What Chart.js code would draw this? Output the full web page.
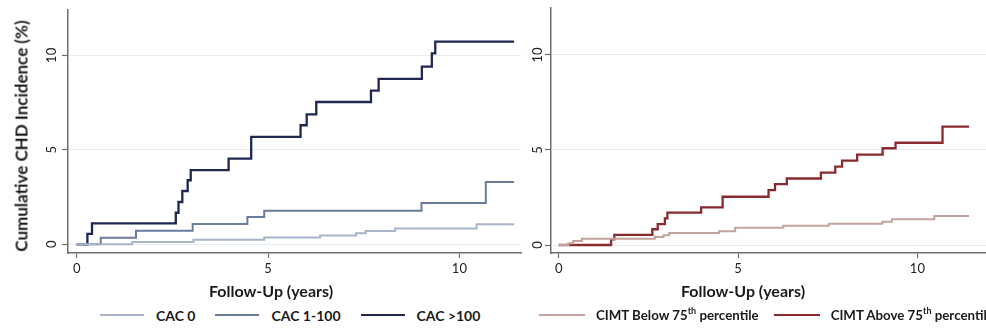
<!DOCTYPE html>
<html>
<head>
<meta charset="utf-8">
<title>Cumulative CHD incidence by CAC and CIMT</title>
<script src="https://cdn.jsdelivr.net/npm/chart.js"></script>
<style>
    html, body { margin: 0; padding: 0; background: #fff; }
    body { width: 986px; height: 329px; position: relative; overflow: hidden;
           font-family: Lato, "DejaVu Sans", sans-serif; color: #1a1a1a; }
    canvas { position: absolute; top: 0; }
    #c_left { left: 0; }
    #c_right { left: 500px; }
    .x_title { position: absolute; top: 281px; font-weight: bold; font-size: 16px;
               white-space: nowrap; transform: translateX(-50%); }
    #y_title { position: absolute; left: 21px; top: 136px; font-weight: bold; font-size: 17px;
               white-space: nowrap; transform: translate(-50%, -50%) rotate(-90deg); }
    .legend { position: absolute; top: 306px; height: 18px; display: flex; align-items: center;
              font-weight: bold; font-size: 14px; white-space: nowrap; }
    .legend .item { display: flex; align-items: center; margin-right: 20px; }
    .legend .line { display: inline-block; width: 44px; height: 2px; margin-right: 12px; }
    .legend sup { font-size: 9px; line-height: 0; vertical-align: 6px; }
    #legend_right { font-size: 13.3px; }
    #legend_right .item { margin-right: 15px; }
    #legend_right .line { width: 46px; margin-right: 11px; }
</style>
</head>
<body>
<canvas id="c_left" width="530" height="290"></canvas>
<canvas id="c_right" width="520" height="290"></canvas>
<div id="y_title">Cumulative CHD Incidence (%)</div>
<div class="x_title" style="left:271px">Follow-Up (years)</div>
<div class="x_title" style="left:743px">Follow-Up (years)</div>
<div class="legend" id="legend_left" style="left:100px"></div>
<div class="legend" id="legend_right" style="left:539px"></div>

<script>
// tick labels
var x_ticks = [0, 5, 10];
var y_ticks = [0, 5, 10];

// left panel: coronary artery calcium groups
var cac_labels = ['CAC 0', 'CAC 1-100', 'CAC >100'];
var cac0_time = [0, 1.45, 3.05, 4.9, 6.36, 7.3, 7.55, 8.32, 10.45, 11.43];
var cac0_pct  = [0, 0.12, 0.24, 0.36, 0.46, 0.58, 0.71, 0.83, 1.06, 1.06];
var cac1_time = [0, 0.63, 1.55, 3.03, 4.46, 4.9, 9.01, 10.69, 11.43];
var cac1_pct  = [0, 0.35, 0.72, 1.07, 1.44, 1.78, 2.18, 3.3, 3.3];
var cac2_time = [0, 0.28, 0.4, 2.59, 2.66, 2.76, 2.9, 2.98, 3.97, 4.56, 5.85, 6.01, 6.26, 7.69, 7.89, 9.02, 9.28, 9.37, 11.43];
var cac2_pct  = [0, 0.55, 1.11, 1.67, 2.24, 2.82, 3.39, 3.93, 4.53, 5.69, 6.3, 6.88, 7.53, 8.13, 8.75, 9.4, 10.1, 10.73, 10.73];

// right panel: carotid intima-media thickness groups
var cimt_labels = ['CIMT Below 75th percentile', 'CIMT Above 75th percentile'];
var cimt_lo_time = [0, 0.27, 0.4, 0.65, 2.68, 2.92, 3.08, 4.47, 4.92, 6.26, 7.53, 9.02, 9.29, 10.47, 11.44];
var cimt_lo_pct  = [0, 0.09, 0.21, 0.33, 0.42, 0.51, 0.63, 0.72, 0.91, 1.01, 1.12, 1.23, 1.36, 1.53, 1.53];
var cimt_hi_time = [0, 1.46, 1.55, 2.61, 2.76, 2.96, 3.03, 3.97, 4.57, 5.85, 6.03, 6.36, 7.31, 7.71, 7.9, 8.32, 9.03, 9.39, 10.7, 11.44];
var cimt_hi_pct  = [0, 0.3, 0.53, 0.83, 1.1, 1.4, 1.7, 1.98, 2.54, 2.89, 3.2, 3.5, 3.81, 4.12, 4.44, 4.76, 5.09, 5.38, 6.23, 6.23];

var axis_color = '#6e6e6e';
var grid_color = '#e4edef';
var tick_font = { family: 'Lato', size: 13 };

function to_points(times, values)
{
    return times.map(function (t, i) { return { x: t, y: values[i] }; });
}

function make_set(label, times, values, color, width)
{
    return {
        label: label,
        data: to_points(times, values),
        borderColor: color,
        backgroundColor: color,
        borderWidth: width,
        stepped: true,
        pointRadius: 0,
        fill: false,
        borderJoinStyle: 'miter',
        borderCapStyle: 'butt'
    };
}

// p: x/y ranges and the pixel room around the plot area
function create_chart(canvas_id, datasets, p)
{
    return new Chart(document.getElementById(canvas_id), {
        type: 'line',
        data: { datasets: datasets },
        options: {
            responsive: false,
            animation: false,
            layout: { padding: { top: p.pad_top, right: p.pad_right, bottom: 7, left: 0 } },
            plugins: { legend: { display: false }, tooltip: { enabled: false } },
            scales: {
                x: {
                    type: 'linear',
                    min: p.x_min,
                    max: p.x_max,
                    afterBuildTicks: function (s) { s.ticks = x_ticks.map(function (v) { return { value: v }; }); },
                    afterFit: function (s) { s.height = 30; s.paddingLeft = 0; s.paddingRight = 0; },
                    grid: { drawOnChartArea: false, tickLength: 5, tickColor: axis_color, tickWidth: 1.2 },
                    border: { color: axis_color, width: 1.5 },
                    ticks: { font: tick_font, color: '#222', padding: 3, maxRotation: 0 }
                },
                y: {
                    type: 'linear',
                    min: p.y_min,
                    max: p.y_max,
                    afterBuildTicks: function (s) { s.ticks = y_ticks.map(function (v) { return { value: v }; }); },
                    afterFit: function (s) { s.width = p.y_width; s.paddingTop = 0; s.paddingBottom = 0; },
                    grid: { color: grid_color, lineWidth: 1, tickLength: 6, tickColor: axis_color, tickWidth: 1.2 },
                    border: { color: axis_color, width: 1.5 },
                    ticks: { font: tick_font, color: '#222', padding: p.y_pad, minRotation: 90, maxRotation: 90, crossAlign: 'center' }
                }
            }
        }
    });
}

function build_legend(chart, box_id)
{
    var html = '';
    chart.data.datasets.forEach(function (ds)
    {
        html += '<span class="item"><span class="line" style="background:' + ds.borderColor + '"></span><span>'
              + ds.label.replace(/(\d)th/, '$1<sup>th</sup>') + '</span></span>';
    });
    document.getElementById(box_id).innerHTML = html;
}

var left_chart = create_chart('c_left', [
    make_set(cac_labels[0], cac0_time, cac0_pct, '#a8b4ca', 2),
    make_set(cac_labels[1], cac1_time, cac1_pct, '#6a7b9c', 2),
    make_set(cac_labels[2], cac2_time, cac2_pct, '#1f2851', 2.3)
], { x_min: -0.227, x_max: 11.61, y_min: -0.46, y_max: 12.4, pad_top: 10, pad_right: 9, y_width: 68, y_pad: 3 });

var right_chart = create_chart('c_right', [
    make_set(cimt_labels[0], cimt_lo_time, cimt_lo_pct, '#c4a39f', 2),
    make_set(cimt_labels[1], cimt_hi_time, cimt_hi_pct, '#8a2a2f', 2.3)
], { x_min: -0.215, x_max: 12.86, y_min: -0.42, y_max: 12.47, pad_top: 8, pad_right: 0, y_width: 51, y_pad: 0 });

build_legend(left_chart, 'legend_left');
build_legend(right_chart, 'legend_right');
</script>
</body>
</html>
